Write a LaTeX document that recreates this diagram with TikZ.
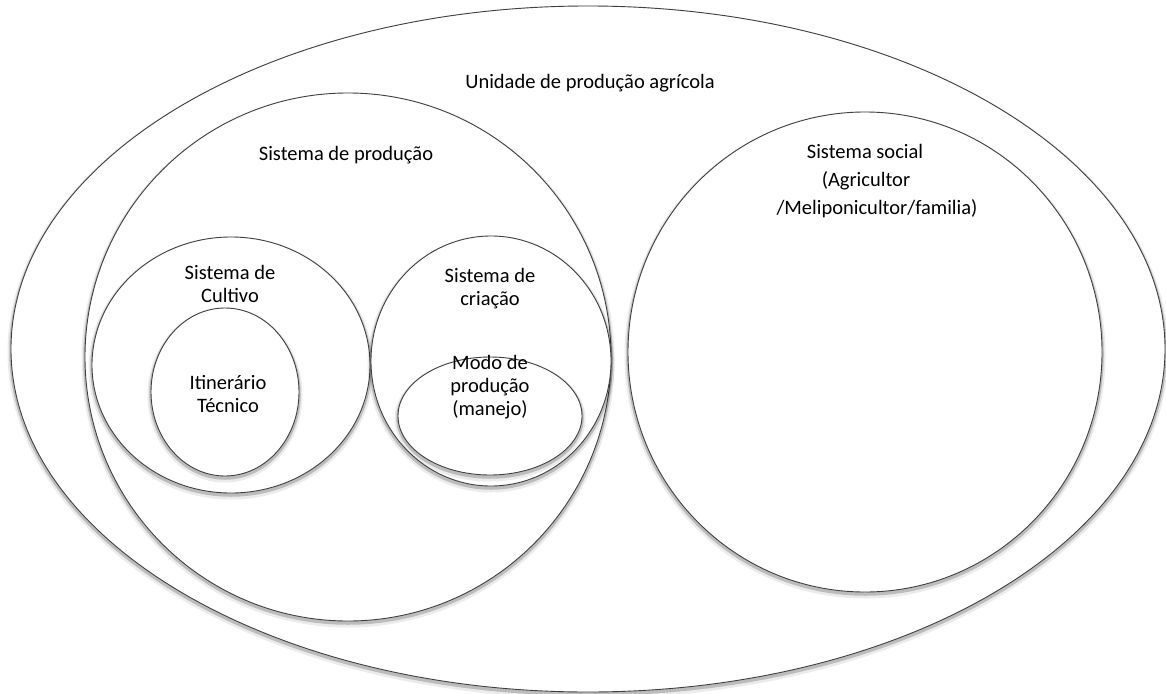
\documentclass[tikz,border=0pt]{standalone}
\usepackage{fontspec}
\setmainfont{Carlito}
\begin{document}
\begin{tikzpicture}[x=1pt,y=-1pt,
  ring/.style={draw=black!75, line width=0.9pt, fill=white,
    preaction={draw=black, draw opacity=0.08, line width=7pt, transform canvas={yshift=-3pt}},
    preaction={draw=black, draw opacity=0.2, line width=3.5pt, transform canvas={yshift=-2pt}}},
  lbl/.style={font=\fontsize{20.5}{23}\selectfont, align=center, inner sep=0pt, text=black}]
\useasboundingbox (0,0) rectangle (1166,693);
\fill[white] (0,0) rectangle (1166,693);
% ellipses
\draw[ring] (588,349) ellipse [x radius=577pt, y radius=343pt];
\draw[ring] (348,357) ellipse [x radius=263pt, y radius=264pt];
\draw[ring] (865,352) ellipse [x radius=237pt, y radius=240pt];
\draw[ring] (231,365) ellipse [x radius=139pt, y radius=128pt];
\draw[ring] (225,392) ellipse [x radius=74pt, y radius=84pt];
\draw[ring] (491,361) ellipse [x radius=120pt, y radius=125pt];
\draw[ring] (490,416) ellipse [x radius=92pt, y radius=59pt];
% labels
\node[lbl] (unid) at (590,83) {Unidade de produção agrícola};
\node[lbl] (sprod) at (346,155) {Sistema de produção};
\node[lbl] (ssoc) at (865,151) {Sistema social};
\node[lbl] (agr) at (866,181) {(Agricultor};
\node[lbl] (meli) at (877,209) {/Meliponicultor/familia)};
\node[lbl] (cult) at (230,284) {Sistema de\\Cultivo};
\node[lbl] (itin) at (228,394) {Itinerário\\Técnico};
\node[lbl] (cria) at (490,289) {Sistema de\\criação};
\node[lbl] (modo) at (490,387) {Modo de\\produção\\(manejo)};
\end{tikzpicture}
\end{document}
